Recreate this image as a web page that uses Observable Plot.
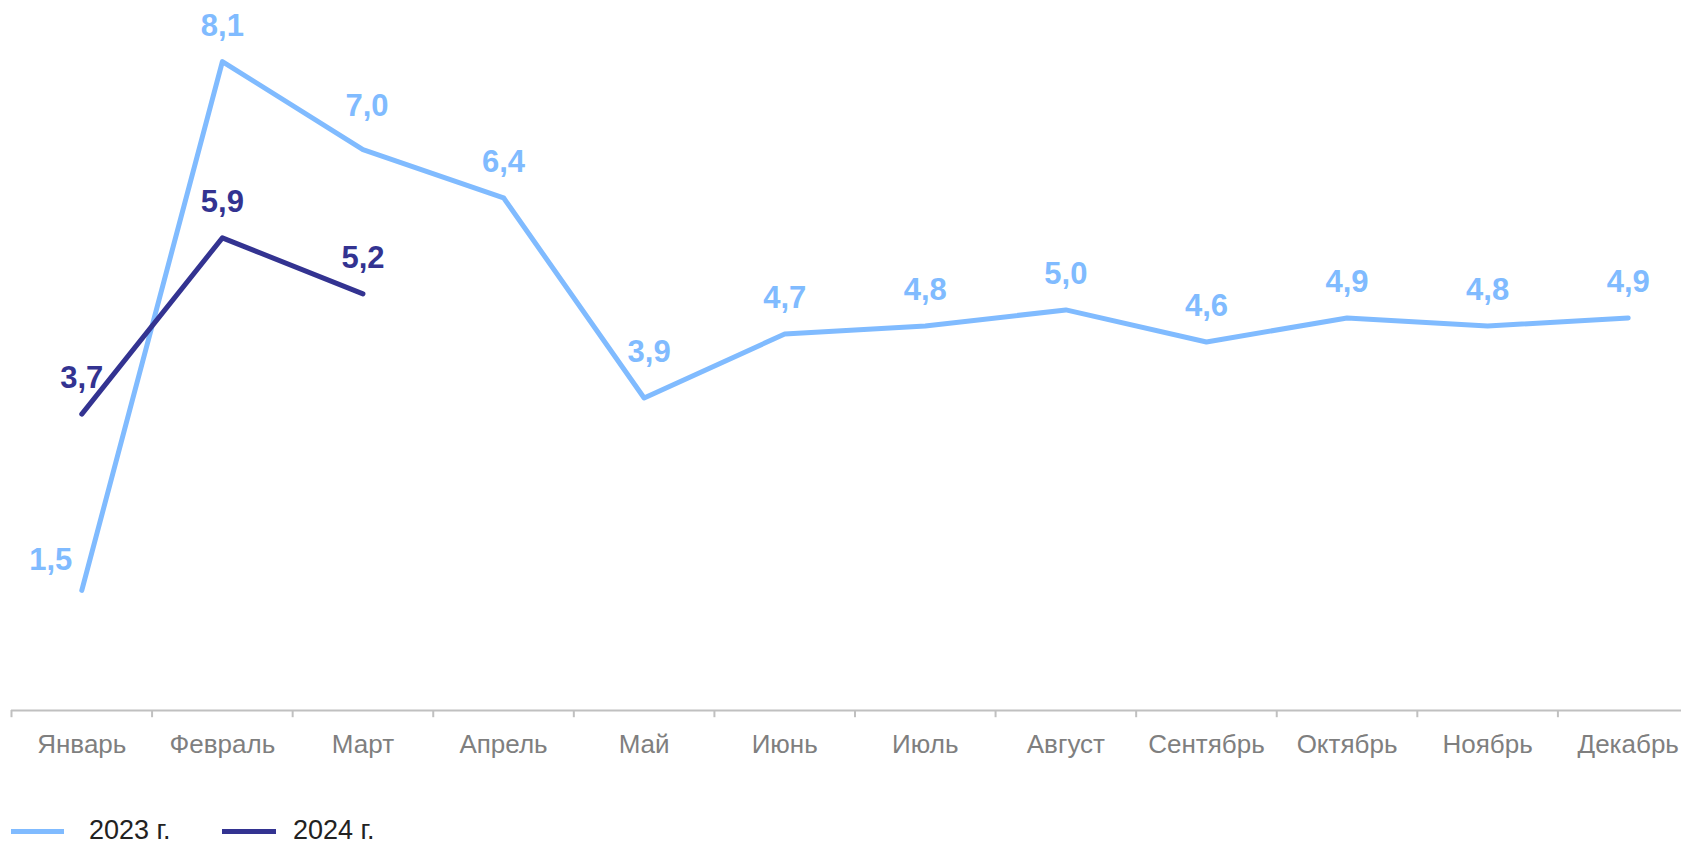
<!DOCTYPE html>
<html>
<head>
<meta charset="utf-8">
<script src="https://cdn.jsdelivr.net/npm/d3@7"></script>
<script src="https://cdn.jsdelivr.net/npm/@observablehq/plot@0.6"></script>
<style>
  html, body { margin: 0; padding: 0; background: #fff; overflow: hidden; width: 1681px; }
  body { font-family: Arial, "Liberation Sans", sans-serif; }
  #chart { width: 1681px; overflow: hidden; height: 790px; }
  #chart svg { max-width: none !important; display: block; }
  #legend { position: relative; height: 53px; font-size: 27px; color: #222; }
  .lg-line { position: absolute; top: 39px; height: 5px; }
  .lg-text { position: absolute; top: 26px; line-height: 28px; }
</style>
</head>
<body>
<div id="chart"></div>
<div id="legend"></div>
<script>
const months = ["Январь","Февраль","Март","Апрель","Май","Июнь","Июль","Август","Сентябрь","Октябрь","Ноябрь","Декабрь"];
const series = ["2023 г.", "2024 г."];
const values2023 = [1.5, 8.1, 7.0, 6.4, 3.9, 4.7, 4.8, 5.0, 4.6, 4.9, 4.8, 4.9];
const values2024 = [3.7, 5.9, 5.2];

const colors = ["#80bbff", "#333391"];
// label nudges (layout only)
const nudge = {"2023 г.|Январь": [-31, 6], "2023 г.|Март": [4, -8], "2023 г.|Май": [5, -10]};

const rows = [];
values2023.forEach((v, i) => rows.push({month: months[i], value: v, series: series[0]}));
values2024.forEach((v, i) => rows.push({month: months[i], value: v, series: series[1]}));

const fmt = v => v.toFixed(1).replace(".", ",");
const step = 140.6;
const x0 = 11;
const W = Math.round(x0 + 12 * step);

const labelMarks = rows.map(r => {
  const n = nudge[r.series + "|" + r.month] || [0, 0];
  return Plot.text([r], {
    x: "month", y: "value", text: d => fmt(d.value),
    dx: n[0], dy: -36 + n[1],
    fill: r.series === series[0] ? colors[0] : colors[1],
    fontSize: 31, fontWeight: "bold", textAnchor: "middle", lineAnchor: "middle"
  });
});

const chart = Plot.plot({
  width: W,
  height: 790,
  marginTop: 1,
  marginBottom: 80,
  marginLeft: x0,
  marginRight: 0,
  style: {fontFamily: "Arial, 'Liberation Sans', sans-serif", background: "#fff", maxWidth: "none"},
  x: {type: "band", domain: months, padding: 0, round: false, label: null},
  y: {domain: [0, 8.85], axis: null},
  color: {domain: series, range: colors},
  marks: [
    Plot.ruleY([0], {stroke: "#c0c0c0", strokeWidth: 2}),
    Plot.ruleX(months, {x: d => d, y1: 0, y2: -0.09, dx: -step / 2, stroke: "#c0c0c0", strokeWidth: 2}),
    Plot.axisX({tickSize: 0, tickPadding: 0, lineAnchor: "middle", dy: 34, fontSize: 26, fill: "#7f7f7f", label: null}),
    Plot.line(rows, {x: "month", y: "value", z: "series", stroke: "series", strokeWidth: 5, strokeLinejoin: "round", strokeLinecap: "round"}),
    ...labelMarks
  ]
});
document.getElementById("chart").appendChild(chart);

const lg = document.getElementById("legend");
const lgPos = [[11, 53, 89], [222, 54, 293]];
series.forEach((s, i) => {
  const l = document.createElement("div");
  l.className = "lg-line";
  l.style.left = lgPos[i][0] + "px";
  l.style.width = lgPos[i][1] + "px";
  l.style.background = colors[i];
  lg.appendChild(l);
  const t = document.createElement("div");
  t.className = "lg-text";
  t.style.left = lgPos[i][2] + "px";
  t.textContent = s;
  lg.appendChild(t);
});
</script>
</body>
</html>
